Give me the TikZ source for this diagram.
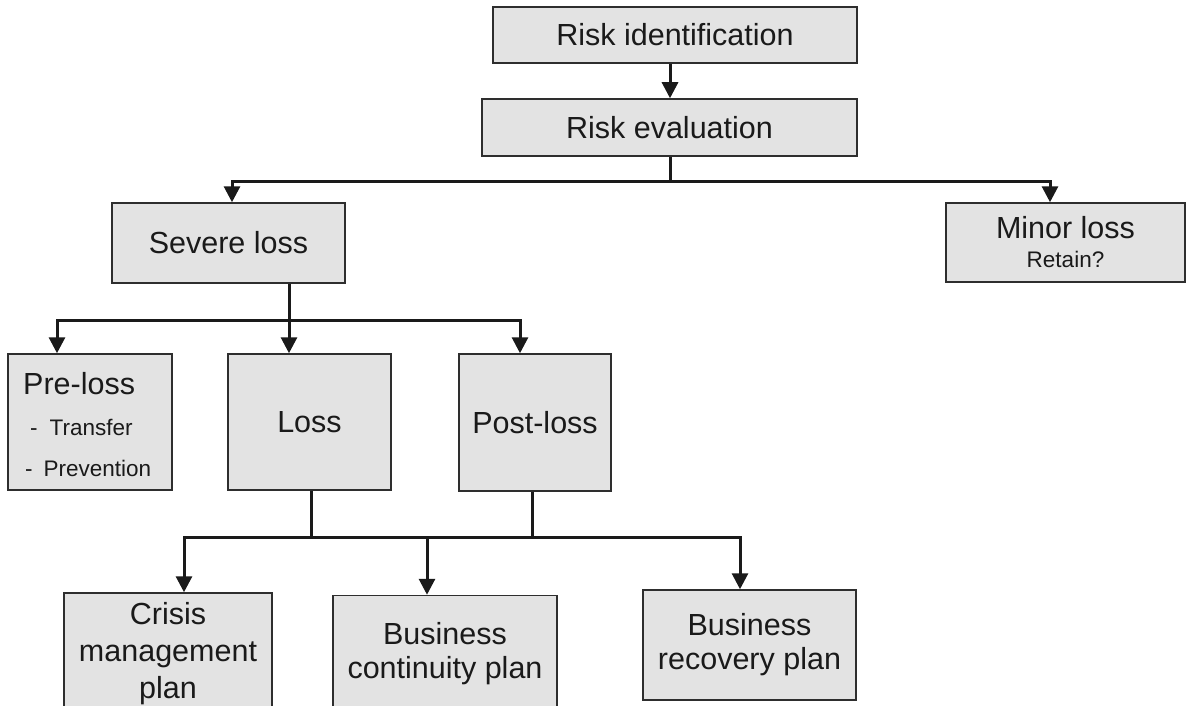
\documentclass[tikz,border=0pt]{standalone}
\usepackage{fontspec}
\setmainfont{Liberation Sans}
\usetikzlibrary{arrows.meta,calc}
\definecolor{boxfill}{HTML}{E3E3E3}
\definecolor{ink}{HTML}{1A1A1A}
\definecolor{edgec}{HTML}{2E2E2E}
\tikzset{
 box/.style={draw=edgec, fill=boxfill, line width=1.5pt, inner sep=0pt, align=center, text=ink, font=\fontsize{30.5}{34}\selectfont},
 smalltext/.style={text=ink, inner sep=0pt, font=\fontsize{22.5}{26}\selectfont},
 bigtext/.style={text=ink, inner sep=0pt, font=\fontsize{30.5}{34}\selectfont},
 conn/.style={draw=ink, line width=3pt},
 arr/.style={conn, -{Triangle[length=16pt,width=16pt]}},
}
\begin{document}
\begin{tikzpicture}[x=1pt,y=-1pt]
\useasboundingbox[fill=white] (0,0) rectangle (1186,706);

\node[box, minimum width=364pt, minimum height=56pt] (ri) at (675,35) {Risk identification};
\node[box, minimum width=375pt, minimum height=57pt] (re) at (669.5,127.5) {Risk evaluation};
\node[box, minimum width=233pt, minimum height=80pt] (sev) at (228.5,243) {Severe loss};
\node[box, minimum width=239pt, minimum height=79pt] (minor) at (1065.5,242.5) {Minor loss\\[-5pt]{\fontsize{22.5}{26}\selectfont Retain?}};

\node[box, minimum width=164pt, minimum height=136pt] (pre) at (90,422) {};
\node[bigtext, anchor=base west] (pret) at (23,394) {Pre-loss};
\node[smalltext, anchor=base west] (pra) at (30,435) {-\hspace{12pt}Transfer};
\node[smalltext, anchor=base west] (prb) at (25,476) {-\hspace{11pt}Prevention};

\node[box, minimum width=163pt, minimum height=136pt] (loss) at (309.5,422) {Loss};
\node[box, minimum width=152pt, minimum height=137pt] (post) at (535,422.5) {Post-loss};

\node[box, minimum width=208pt, minimum height=122pt, font=\fontsize{30.5}{37}\selectfont] (crisis) at (168,654) {Crisis\\management\\plan};
\node[box, minimum width=224pt, minimum height=117pt] (cont) at (445,654) {Business\\continuity plan};
\node[box, minimum width=213pt, minimum height=110pt] (recov) at (749.5,645) {Business\\recovery plan};

\coordinate (j1) at (670,181);
\draw[arr] (ri.south -| j1) -- (re.north -| j1);
\draw[conn] (re.south -| j1) -- (j1);
\draw[arr] (j1) -| ([xshift=3.5pt]sev.north);
\draw[arr] (j1) -| ([xshift=-15.5pt]minor.north);

\coordinate (j2) at (289,320);
\draw[conn] (sev.south -| j2) -- (j2);
\draw[arr] (j2) -| ([xshift=-33pt]pre.north);
\draw[arr] (j2) -- (loss.north -| j2);
\draw[arr] (j2) -| ([xshift=-15pt]post.north);

\coordinate (j3) at (311,537);
\coordinate (j4) at (532,537);
\draw[conn] (loss.south -| j3) -- (j3);
\draw[conn] (post.south -| j4) -- (j4);
\draw[conn] (j3) -- (j4);
\draw[arr] (j3) -| ([xshift=16pt]crisis.north);
\draw[arr] (j3) -| ([xshift=-18pt]cont.north);
\draw[arr] (j4) -| ([xshift=-9.5pt]recov.north);
\end{tikzpicture}
\end{document}
